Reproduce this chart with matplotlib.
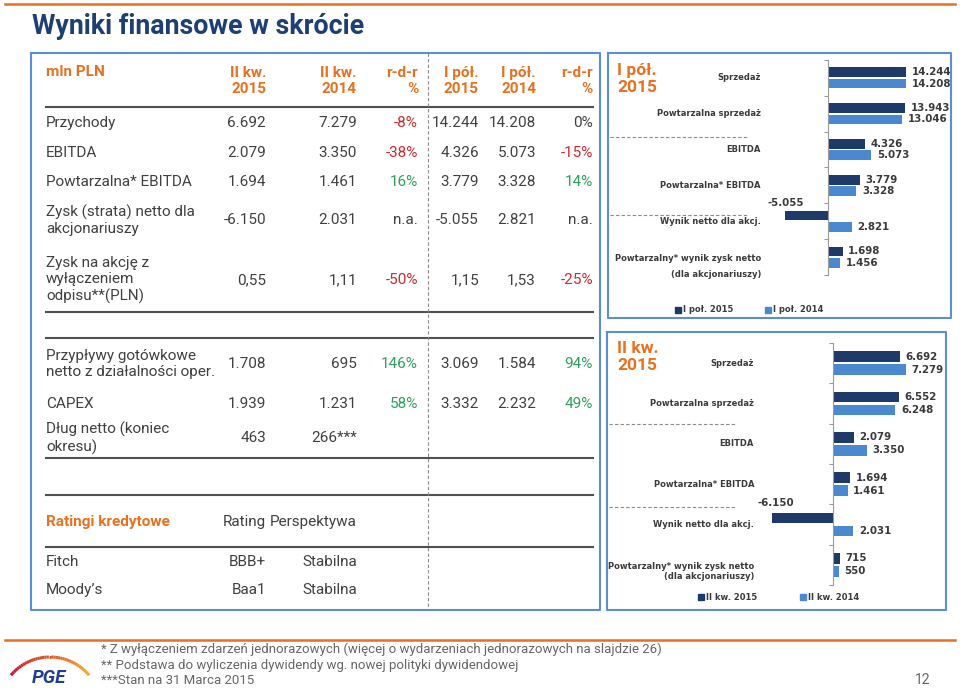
import numpy as np
import matplotlib
matplotlib.use("Agg")
import matplotlib.pyplot as plt

# tabela - wyniki
header_cols = ["II kw.\n2015", "II kw.\n2014", "r-d-r\n%", "I pół.\n2015", "I pół.\n2014", "r-d-r\n%"]
row_labels = ["Przychody", "EBITDA", "Powtarzalna* EBITDA",
              "Zysk (strata) netto dla\nakcjonariuszy",
              "Zysk na akcję z\nwyłączeniem\nodpisu**(PLN)"]
q2_2015 = ["6.692", "2.079", "1.694", "-6.150", "0,55"]
q2_2014 = ["7.279", "3.350", "1.461", "2.031", "1,11"]
q2_yoy = ["-8%", "-38%", "16%", "n.a.", "-50%"]
h1_2015 = ["14.244", "4.326", "3.779", "-5.055", "1,15"]
h1_2014 = ["14.208", "5.073", "3.328", "2.821", "1,53"]
h1_yoy = ["0%", "-15%", "14%", "n.a.", "-25%"]

# tabela - przepływy
row_labels2 = ["Przypływy gotówkowe\nnetto z działalności oper.", "CAPEX", "Dług netto (koniec\nokresu)"]
q2_2015_b = ["1.708", "1.939", "463"]
q2_2014_b = ["695", "1.231", "266***"]
q2_yoy_b = ["146%", "58%", ""]
h1_2015_b = ["3.069", "3.332", ""]
h1_2014_b = ["1.584", "2.232", ""]
h1_yoy_b = ["94%", "49%", ""]

# ratingi
agencies = ["Fitch", "Moody’s"]
ratings = ["BBB+", "Baa1"]
outlooks = ["Stabilna", "Stabilna"]

# wykresy
chart_cats = ["Sprzedaż", "Powtarzalna sprzedaż", "EBITDA", "Powtarzalna* EBITDA",
              "Wynik netto dla akcj.", "Powtarzalny* wynik zysk netto\n(dla akcjonariuszy)"]
h1_2015_vals = [14244, 13943, 4326, 3779, -5055, 1698]
h1_2014_vals = [14208, 13046, 5073, 3328, 2821, 1456]
q2_2015_vals = [6692, 6552, 2079, 1694, -6150, 715]
q2_2014_vals = [7279, 6248, 3350, 1461, 2031, 550]

footnotes = ["* Z wyłączeniem zdarzeń jednorazowych (więcej o wydarzeniach jednorazowych na slajdzie 26)",
             "** Podstawa do wyliczenia dywidendy wg. nowej polityki dywidendowej",
             "***Stan na 31 Marca 2015"]

ORANGE = "#E8701E"
NAVY = "#1F3F73"
BORDER = "#5B8ED6"
TXT = "#404040"
RED = "#D0282E"
GREEN = "#2E9E5B"
DARK = "#1F3A68"
LIGHT = "#4A88D0"
CTXT = "#3A3A3A"

plt.rcParams['font.family'] = ['Roboto', 'DejaVu Sans']
W, H = 960, 688
fig = plt.figure(figsize=(9.6, 6.88), dpi=100)
bg = fig.add_axes([0, 0, 1, 1])
bg.set_xlim(0, W)
bg.set_ylim(H, 0)
bg.axis('off')

# naglowek strony
bg.plot([5, 955], [4, 4], color=ORANGE, lw=1.8)
bg.text(32, 27, "Wyniki finansowe w skrócie", fontsize=19.3, fontweight='bold', color=NAVY, va='center')

# ramki
def box(x0, y0, x1, y1):
    bg.plot([x0, x1, x1, x0, x0], [y0, y0, y1, y1, y0], color=BORDER, lw=1.5)

box(31, 53, 600, 610)
box(608, 53, 951, 318)
box(607, 332, 946, 610)

# tabela
col_x = [266, 357, 418, 479, 536, 593]
bg.text(46, 72, "mln PLN", fontsize=11, fontweight='bold', color=ORANGE, va='center')
for cx, h in zip(col_x, header_cols):
    bg.text(cx, 81, h, fontsize=11, fontweight='bold', color=ORANGE, va='center', ha='right', linespacing=1.25)

for yy in [107, 312, 338, 458, 495, 547]:
    bg.plot([46, 593], [yy, yy], color='#505050', lw=1.5)
bg.plot([428, 428], [53, 610], color='#8a8a8a', lw=0.8, linestyle=(0, (3, 2)))


def pct_color(s):
    if s.startswith('-'):
        return RED
    if s in ("0%", "n.a.", ""):
        return TXT
    return GREEN


def table_rows(labels, cols, ys):
    for i, (lab, yy) in enumerate(zip(labels, ys)):
        bg.text(46, yy, lab, fontsize=11, color=TXT, va='center', ha='left', linespacing=1.2)
        for j, (cx, col) in enumerate(zip(col_x, cols)):
            s = col[i]
            c = pct_color(s) if j in (2, 5) else TXT
            bg.text(cx, yy, s, fontsize=11, color=c, va='center', ha='right')


table_rows(row_labels, [q2_2015, q2_2014, q2_yoy, h1_2015, h1_2014, h1_yoy], [123, 153, 182, 220, 280])
table_rows(row_labels2, [q2_2015_b, q2_2014_b, q2_yoy_b, h1_2015_b, h1_2014_b, h1_yoy_b], [364, 404, 438])

bg.text(46, 522, "Ratingi kredytowe", fontsize=11, fontweight='bold', color=ORANGE, va='center')
bg.text(col_x[0], 522, "Rating", fontsize=11, color=TXT, va='center', ha='right')
bg.text(col_x[1], 522, "Perspektywa", fontsize=11, color=TXT, va='center', ha='right')
for a, r, o, yy in zip(agencies, ratings, outlooks, [562, 590]):
    bg.text(46, yy, a, fontsize=11, color=TXT, va='center')
    bg.text(col_x[0], yy, r, fontsize=11, color=TXT, va='center', ha='right')
    bg.text(col_x[1], yy, o, fontsize=11, color=TXT, va='center', ha='right')


# wykresy
def px_axes(x0, y0, x1, y1):
    return fig.add_axes([x0 / W, 1 - y1 / H, (x1 - x0) / W, (y1 - y0) / H])


def fmt(v):
    return f"{v:,}".replace(",", ".")


def draw_chart(ax, v_new, v_old, label_ax_x, last_dy, last_ls, neg_off):
    y = np.arange(len(chart_cats))
    ax.barh(y - 0.16, v_new, height=0.27, color=DARK)
    ax.barh(y + 0.16, v_old, height=0.27, color=LIGHT)
    ax.set_ylim(len(chart_cats) - 0.5, -0.5)
    for sp in ['top', 'right', 'bottom']:
        ax.spines[sp].set_visible(False)
    ax.spines['left'].set_position(('data', 0))
    ax.spines['left'].set_color('#9a9a9a')
    ax.set_yticks(np.arange(len(chart_cats) + 1) - 0.5)
    ax.set_yticklabels([])
    ax.tick_params(axis='y', length=3, color='#9a9a9a', direction='out')
    ax.set_xticks([])
    ax.set_facecolor('none')
    tr = ax.get_yaxis_transform()
    for i, c in enumerate(chart_cats):
        if '\n' in c:
            ax.text(label_ax_x, i + last_dy, c, transform=tr, ha='right', va='center', fontsize=6,
                    fontweight='bold', color=CTXT, family='DejaVu Sans', linespacing=last_ls)
        else:
            ax.text(label_ax_x, i, c, transform=tr, ha='right', va='center', fontsize=6,
                    fontweight='bold', color=CTXT, family='DejaVu Sans')
    for yy, vals in ((y - 0.16, v_new), (y + 0.16, v_old)):
        for yi, v in zip(yy, vals):
            if v >= 0:
                ax.annotate(fmt(v), (v, yi), xytext=(4, 0), textcoords='offset points', ha='left',
                            va='center', fontsize=7.4, fontweight='bold', color=CTXT, family='DejaVu Sans')
            else:
                ax.annotate(fmt(v), (v, yi), xytext=neg_off, textcoords='offset points', ha='center',
                            va='center', fontsize=7.4, fontweight='bold', color=CTXT, family='DejaVu Sans')


# I pół. - skala skrócona dla sprzedaży (jak w oryginale)
T, S = 5500.0, 0.42


def fwd(v):
    v = np.asarray(v, dtype=float)
    return np.where(v > T, T + (v - T) * S, v)


def inv(t):
    t = np.asarray(t, dtype=float)
    return np.where(t > T, T + (t - T) / S, t)


ax1 = px_axes(700, 60, 950, 275)
ax1.set_xscale('function', functions=(fwd, inv))
draw_chart(ax1, h1_2015_vals, h1_2014_vals, (761 - 700) / 250, 0.26, 2.1, (1, 9))
ax1.set_xlim(-(828 - 700) * 117, float(inv((950 - 828) * 117)))
ax1.set_xticks([])

ax2 = px_axes(700, 343, 945, 585)
draw_chart(ax2, q2_2015_vals, q2_2014_vals, (754 - 700) / 245, 0.17, 1.15, (3, 11))
ax2.set_xlim(-(833 - 700) * 100, (945 - 833) * 100)

# tytuly wykresow
bg.text(617, 79, "I pół.\n2015", fontsize=12.5, fontweight='bold', color=ORANGE, va='center', linespacing=1.2)
bg.text(617, 357, "II kw.\n2015", fontsize=12.5, fontweight='bold', color=ORANGE, va='center', linespacing=1.2)

# przerywane separatory
for yy in [137, 215]:
    bg.plot([610, 748], [yy, yy], color='#8a8a8a', lw=0.8, linestyle=(0, (3, 2)))
for yy in [424, 507]:
    bg.plot([609, 735], [yy, yy], color='#8a8a8a', lw=0.8, linestyle=(0, (3, 2)))

# legendy
def legend_item(x, y, color, label):
    bg.plot([x + 3], [y], marker='s', markersize=3.8, color=color, linestyle='none')
    bg.text(x + 8, y, label, fontsize=6, fontweight='bold', color=CTXT, va='center', family='DejaVu Sans')

legend_item(675, 310, DARK, "I poł. 2015")
legend_item(765, 310, LIGHT, "I poł. 2014")
legend_item(698, 597, DARK, "II kw. 2015")
legend_item(800, 597, LIGHT, "II kw. 2014")

# stopka
bg.plot([5, 955], [640, 640], color=ORANGE, lw=1.8)
for fn, yy in zip(footnotes, [649, 665, 681]):
    bg.text(101, yy, fn, fontsize=9.5, color='#666666', va='center')
bg.text(923, 680, "12", fontsize=10, color='#666666', va='center', ha='center')

# logo PGE
ang = np.linspace(np.radians(140), np.radians(40), 40)
ax_ = 50 + 51 * np.cos(ang)
ay_ = 708 - 51 * np.sin(ang)
c0 = np.array([0.78, 0.06, 0.18])
c1 = np.array([0.96, 0.65, 0.14])
for k in range(len(ang) - 1):
    f = k / (len(ang) - 2)
    bg.plot(ax_[k:k + 2], ay_[k:k + 2], color=c0 * (1 - f) + c1 * f, lw=2.2, solid_capstyle='butt')
bg.text(49, 678, "PGE", fontsize=13.5, fontweight='bold', style='italic', color='#1F3F8F',
        ha='center', va='center')

fig.savefig("out.png", dpi=100)
